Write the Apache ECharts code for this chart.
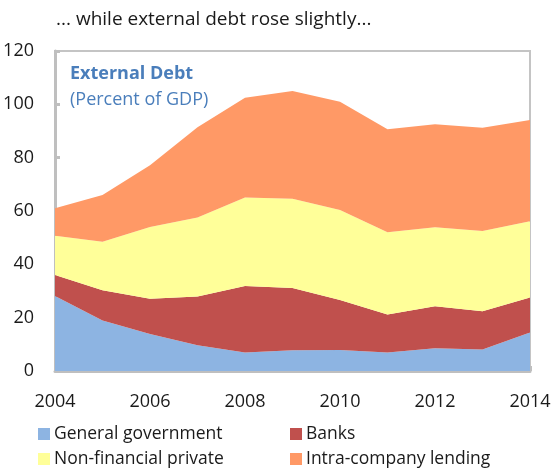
<!DOCTYPE html>
<html>
<head>
<meta charset="utf-8">
<script src="https://cdn.jsdelivr.net/npm/echarts@6/dist/echarts.min.js"></script>
<style>
  html, body { margin: 0; padding: 0; background: #fff; }
  #chart { width: 554px; height: 468px; }
</style>
</head>
<body>
<div id="chart"></div>
<script>
// External debt by sector, percent of GDP
const years = ['2004','2005','2006','2007','2008','2009','2010','2011','2012','2013','2014'];
const generalGovernment = [28.1, 18.9, 13.9, 9.7, 6.9, 7.8, 7.9, 6.9, 8.5, 8.1, 14.4];
const banks = [7.9, 11.4, 13.2, 18.2, 25.0, 23.3, 18.7, 14.3, 15.8, 14.3, 13.2];
const nonFinancialPrivate = [14.7, 18.2, 26.9, 29.7, 33.2, 33.5, 33.8, 30.8, 29.6, 30.1, 28.6];
const intraCompanyLending = [10.3, 17.5, 23.2, 33.8, 37.4, 40.4, 40.6, 38.7, 38.6, 38.7, 37.9];
const yTicks = [0, 20, 40, 60, 80, 100, 120];

const FONT = '"Open Sans", "Noto Sans", sans-serif';
const colors = ['#8DB4E2', '#C0504D', '#FFFF99', '#FF9966'];
const names = ['General government', 'Banks', 'Non-financial private', 'Intra-company lending'];
const values = [generalGovernment, banks, nonFinancialPrivate, intraCompanyLending];

const chart = echarts.init(document.getElementById('chart'), null, { renderer: 'canvas' });

const legendPos = [
  { left: 33, top: 420 },
  { left: 285, top: 420 },
  { left: 33, top: 445 },
  { left: 285, top: 445 }
];

chart.setOption({
  animation: false,
  color: colors,
  textStyle: { fontFamily: FONT },
  title: [
    {
      text: '... while external debt rose slightly...',
      left: 51, top: 5,
      textStyle: { fontFamily: FONT, fontSize: 19, fontWeight: 'normal', color: '#1a1a1a' }
    },
    {
      text: 'External Debt',
      left: 65, top: 60,
      textStyle: { fontFamily: FONT, fontSize: 18, fontWeight: 'bold', color: '#4A7EBB' }
    },
    {
      text: '(Percent of GDP)',
      left: 65, top: 86,
      textStyle: { fontFamily: FONT, fontSize: 18, fontWeight: 'normal', color: '#4A7EBB' }
    }
  ],
  legend: names.map((n, i) => ({
    data: [n],
    left: legendPos[i].left,
    top: legendPos[i].top,
    itemWidth: 12,
    itemHeight: 12,
    itemGap: 4,
    icon: 'rect',
    selectedMode: false,
    textStyle: { fontFamily: FONT, fontSize: 17.5, color: '#1a1a1a', padding: [0, 0, 0, -1] }
  })),
  grid: {
    left: 55, right: 24, top: 51, bottom: 97,
    show: true,
    borderColor: '#c4c4c4',
    borderWidth: 2,
    containLabel: false
  },
  xAxis: {
    type: 'category',
    data: years,
    boundaryGap: false,
    axisLine: { show: true, lineStyle: { color: '#bfbfbf', width: 3 } },
    axisTick: { show: true, inside: true, length: 5, interval: 0, lineStyle: { color: '#bfbfbf', width: 3 } },
    axisLabel: {
      interval: 1, margin: 22,
      fontFamily: FONT, fontSize: 18, color: '#1a1a1a'
    },
    splitLine: { show: false }
  },
  yAxis: {
    type: 'value',
    min: yTicks[0], max: yTicks[yTicks.length - 1], interval: 20,
    axisLine: { show: true, lineStyle: { color: '#bfbfbf', width: 3 } },
    axisTick: { show: true, inside: true, length: 5, lineStyle: { color: '#bfbfbf', width: 3 } },
    axisLabel: { margin: 21, fontFamily: FONT, fontSize: 18, color: '#1a1a1a' },
    splitLine: { show: false }
  },
  series: values.map((v, i) => ({
    name: names[i],
    type: 'line',
    stack: 'debt',
    data: v,
    symbol: 'none',
    lineStyle: { width: 0 },
    areaStyle: { color: colors[i], opacity: 1 },
    itemStyle: { color: colors[i] },
    z: 1
  }))
});
</script>
</body>
</html>
